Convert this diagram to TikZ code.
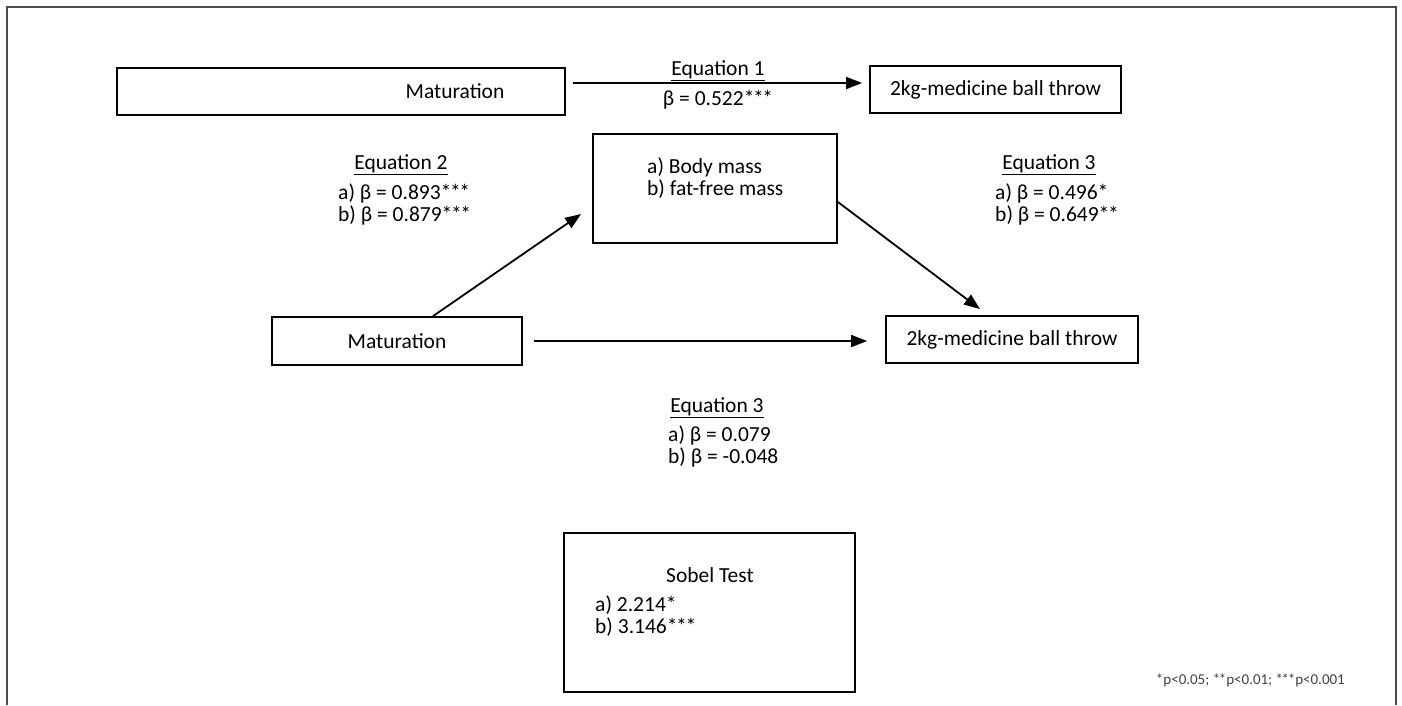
\documentclass[tikz,border=0pt]{standalone}
\usepackage{fontspec}
\setmainfont{Carlito}
\usetikzlibrary{arrows.meta}

\newcommand{\sone}{*}
\newcommand{\stwo}{*\kern-1.4pt*}
\newcommand{\sthree}{*\kern-1.4pt*\kern-1.4pt*}

\begin{document}
\begin{tikzpicture}[x=1pt,y=-1pt,
  box/.style={draw,line width=1.8pt,inner sep=0pt},
  lbl/.style={font=\fontsize{21.5}{21.5}\selectfont,inner sep=0pt},
  arr/.style={line width=1.8pt,-{Triangle[length=16pt,width=12pt]}}]

\useasboundingbox (0,0) rectangle (1402,705);
\draw [line width=2pt,black!70] (7,705) -- (7,7) -- (1396,7) -- (1396,705);

% boxes
\node [box,minimum width=448pt,minimum height=47pt] (mat1) at (341,91.5) {};
\node [lbl] (mat1t) at (455,91.5) {Maturation};
\node [box,lbl,minimum width=251pt,minimum height=47pt] (ball1) at (995.5,89.5) {2kg-medicine ball throw};
\node [box,minimum width=244pt,minimum height=109pt] (mass) at (715,188.5) {};
\node [lbl,align=left,anchor=north west] (masst) at (647,158) {a) Body mass\\b) fat-free mass};
\node [box,lbl,minimum width=250pt,minimum height=48pt] (mat2) at (397,341) {Maturation};
\node [box,lbl,minimum width=252pt,minimum height=47pt] (ball2) at (1012,339.5) {2kg-medicine ball throw};
\node [box,minimum width=291pt,minimum height=159pt] (sobel) at (709.5,612.5) {};
\node [lbl] (sobelt) at (710,575) {Sobel Test};
\node [lbl,align=left,anchor=north west] (sobelv) at (595,596) {a) 2.214\sone\\b) 3.146\sthree};

% coefficients
\node [lbl] (eq1) at (718,71) {\underline{Equation 1}};
\node [lbl] (eq1b) at (718,100) {β = 0.522\sthree};
\node [lbl] (eq2) at (401,165) {\underline{Equation 2}};
\node [lbl,align=left,anchor=north west] (eq2b) at (338,184) {a) β = 0.893\sthree\\b) β = 0.879\sthree};
\node [lbl] (eq3) at (1049,165) {\underline{Equation 3}};
\node [lbl,align=left,anchor=north west] (eq3b) at (995,184) {a) β = 0.496\sone\\b) β = 0.649\stwo};
\node [lbl] (eq4) at (717,408) {\underline{Equation 3}};
\node [lbl,align=left,anchor=north west] (eq4b) at (668,426) {a) β = 0.079\\b) β = -0.048};

\node [font=\fontsize{15}{15}\selectfont,text=black!75,inner sep=0pt,anchor=east] (note) at (1345,680) {\sone p<0.05; \stwo p<0.01; \sthree p<0.001};

% arrows
\draw [arr] ([xshift=7pt,yshift=8.5pt]mat1.east) -- ([xshift=-7pt,yshift=8.5pt]mat1.east -| ball1.west);
\draw [arr] ([xshift=36pt]mat2.north) -- ([xshift=-11pt,yshift=-25.5pt]mass.west);
\draw [arr] ([yshift=-13.5pt]mass.east) -- ([xshift=-32pt,yshift=6pt]ball2.north);
\draw [arr] ([xshift=11pt]mat2.east) -- ([xshift=-18pt]mat2.east -| ball2.west);

\end{tikzpicture}
\end{document}
